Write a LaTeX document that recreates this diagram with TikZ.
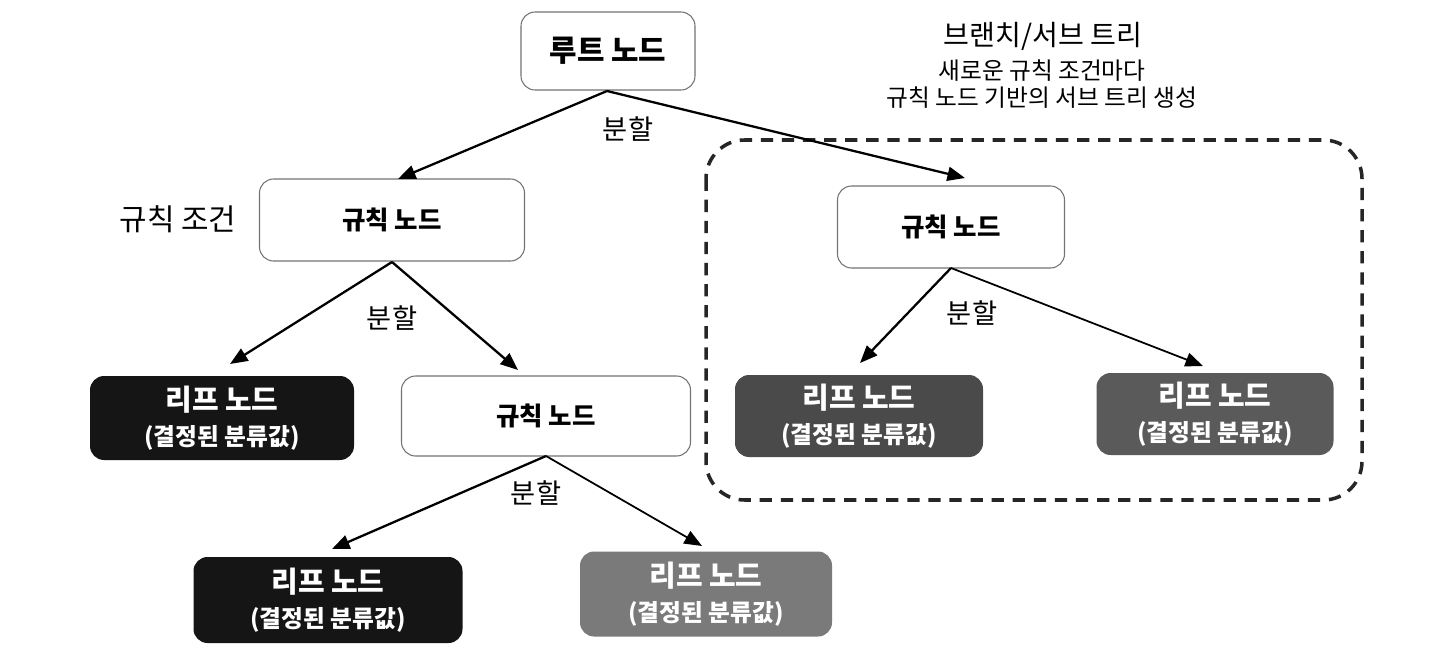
\documentclass[tikz,border=0pt]{standalone}
\usepackage{fontspec}
\setmainfont{Noto Sans CJK KR}
\usetikzlibrary{arrows.meta}
\definecolor{leafA}{HTML}{151515}
\definecolor{leafB}{HTML}{4A4A4A}
\definecolor{leafC}{HTML}{5A5A5A}
\definecolor{leafD}{HTML}{7A7A7A}
\begin{document}
\begin{tikzpicture}[x=0.02cm,y=-0.02cm,
  rulebox/.style={draw=black!55,line width=0.6pt,rounded corners=8pt,fill=white,font=\fontsize{14.5}{16}\selectfont\bfseries,inner sep=0pt},
  leafbox/.style={rounded corners=8pt,inner sep=0pt,text=white,align=center,font=\fontsize{16.5}{20}\selectfont\bfseries},
  lbl/.style={font=\fontsize{15.5}{18}\selectfont},
  arr/.style={-{Triangle[length=10pt,width=8pt]},line width=1.3pt}]
\useasboundingbox (0,0) rectangle (1443,669);
\fill[white] (0,0) rectangle (1443,669);
% dashed subtree box
\draw[line width=2pt,dash pattern=on 7pt off 5pt,rounded corners=22pt,black!85] (706,140) rectangle (1362,500);
% nodes
\node[rulebox,minimum width=174*0.02cm,minimum height=78*0.02cm,font=\fontsize{17}{19}\selectfont\bfseries] (root) at (608,51) {루트 노드};
\node[rulebox,minimum width=265*0.02cm,minimum height=82*0.02cm] (r1) at (392,220) {규칙 노드};
\node[rulebox,minimum width=227*0.02cm,minimum height=82*0.02cm] (r2) at (951,227) {규칙 노드};
\node[rulebox,minimum width=289*0.02cm,minimum height=80*0.02cm] (r3) at (546,416) {규칙 노드};
\node[leafbox,fill=leafA,minimum width=264*0.02cm,minimum height=84*0.02cm] (l1) at (222,418) {리프 노드\\{\fontsize{13.5}{16}\selectfont (결정된 분류값)}};
\node[leafbox,fill=leafB,minimum width=248*0.02cm,minimum height=82*0.02cm] (l2) at (859,416) {리프 노드\\{\fontsize{13.5}{16}\selectfont (결정된 분류값)}};
\node[leafbox,fill=leafC,minimum width=237*0.02cm,minimum height=82*0.02cm] (l3) at (1215,414) {리프 노드\\{\fontsize{13.5}{16}\selectfont (결정된 분류값)}};
\node[leafbox,fill=leafA,minimum width=269*0.02cm,minimum height=86*0.02cm] (l4) at (328,600) {리프 노드\\{\fontsize{13.5}{16}\selectfont (결정된 분류값)}};
\node[leafbox,fill=leafD,minimum width=252*0.02cm,minimum height=85*0.02cm] (l5) at (706,594) {리프 노드\\{\fontsize{13.5}{16}\selectfont (결정된 분류값)}};
% labels
\node[lbl] (s0) at (628,129) {분할};
\node[lbl] (s1) at (392,318) {분할};
\node[lbl] (s2) at (972,313) {분할};
\node[lbl] (s3) at (536,493) {분할};
\node[font=\fontsize{17}{19}\selectfont] (cond) at (178,219) {규칙 조건};
\node[align=center,font=\fontsize{16}{19}\selectfont] (ttl) at (1043,36) {브랜치/서브 트리};
\node[align=center,font=\fontsize{13.5}{15.5}\selectfont] (sub) at (1042,84) {새로운 규칙 조건마다\\규칙 노드 기반의 서브 트리 생성};
% connectors
\coordinate (rb) at (607,91);
\draw[arr] (rb) -- (398,179);
\draw[arr] (rb) -- (965,178);
\coordinate (r1b) at (392,262);
\draw[arr] (r1b) -- (230,364);
\draw[arr] (r1b) -- (518,370);
\coordinate (r2b) at (951,268);
\draw[arr] (r2b) -- (860,363);
\draw[arr,line width=1pt] (r2b) -- (1203,366);
\coordinate (r3b) at (546,456);
\draw[arr] (r3b) -- (332,549);
\draw[arr,line width=1pt] (r3b) -- (702,546);
\end{tikzpicture}
\end{document}
